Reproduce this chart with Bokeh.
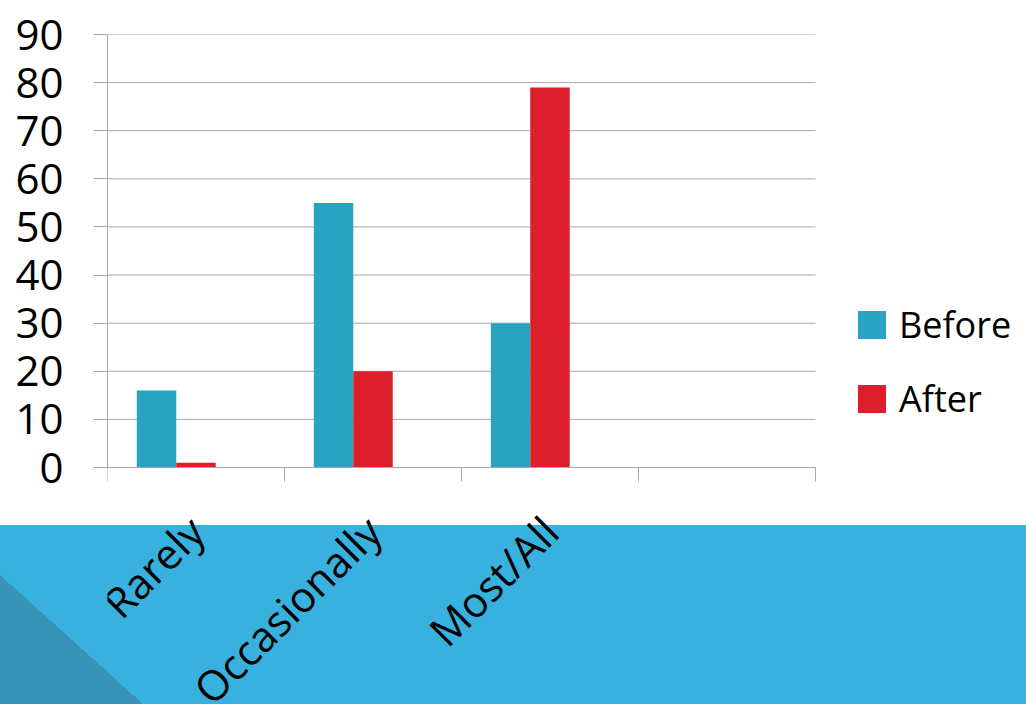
import math
from bokeh.plotting import figure
from bokeh.models import (Range1d, LinearAxis, FixedTicker, ColumnDataSource,
                          Legend, LegendItem, InlineStyleSheet)
from bokeh.transform import dodge
from bokeh.embed import file_html
from bokeh.resources import INLINE

# ---- data ----
categories = ["Rarely", "Occasionally", "Most/All", ""]
bar_categories = ["Rarely", "Occasionally", "Most/All"]
before = [16, 55, 30]
after = [1, 20, 79]
y_ticks = [0, 10, 20, 30, 40, 50, 60, 70, 80, 90]
series_names = ["Before", "After"]

BEFORE_C = "#2aa2c1"
AFTER_C = "#dc1f2b"
GRID_C = "#a8a8a8"
BAND_C = "#39b1de"
TRI_C = "#3794b6"
FONT = "Open Sans"

W, H = 1026, 704
LEFT, TOP = 107, 34
CHART_W, CHART_H = 708, 433   # pixel size of the value/category area
FRAME_W = W - LEFT            # frame runs to the right edge (legend lives there)
BELOW = H - TOP - CHART_H     # frame also runs to the bottom edge (labels live there)

# slide background (white top, blue band, darker corner triangle) as page decoration
bg_css = f""":host {{
  background:
    linear-gradient(to top right, {TRI_C} 50%, transparent 50%) 0 575px / 143px 129px no-repeat,
    linear-gradient({BAND_C}, {BAND_C}) 0 525px / 100% 179px no-repeat,
    #ffffff;
}}"""

n_cat = len(categories)
y_span = y_ticks[-1] - y_ticks[0]
centres = [categories.index(c) + 0.5 for c in bar_categories]
src = ColumnDataSource(dict(cat=bar_categories, xc=centres, before=before, after=after))
grid_src = ColumnDataSource(dict(y=y_ticks, x0=[0] * len(y_ticks), x1=[n_cat] * len(y_ticks)))

p = figure(width=W, height=H,
           x_range=Range1d(0, n_cat * FRAME_W / CHART_W),
           y_range=Range1d(y_ticks[0] - y_span * BELOW / CHART_H, y_ticks[-1]),
           x_axis_location=None, y_axis_location="left",
           output_backend="svg", toolbar_location=None,
           min_border_left=LEFT, min_border_right=0,
           min_border_top=TOP, min_border_bottom=0,
           outline_line_color=None, background_fill_color=None,
           border_fill_color=None,
           stylesheets=[InlineStyleSheet(css=bg_css)])

# horizontal gridlines across the category area only
p.segment(x0="x0", x1="x1", y0="y", y1="y", source=grid_src,
          line_color=GRID_C, line_width=1)

w = 0.223
rb = p.vbar(x=dodge("xc", -w), top="before", width=w, source=src,
            fill_color=BEFORE_C, line_color=None)
ra = p.vbar(x=dodge("xc", 0), top="after", width=w, source=src,
            fill_color=AFTER_C, line_color=None)

# y axis
ya = p.yaxis[0]
ya.ticker = FixedTicker(ticks=y_ticks)
ya.bounds = (y_ticks[0], y_ticks[-1])
ya.major_tick_out = 14
ya.major_tick_in = 0
ya.minor_tick_line_color = None
ya.major_tick_line_color = GRID_C
ya.axis_line_color = GRID_C
ya.major_label_standoff = 30
ya.major_label_text_font = FONT
ya.major_label_text_font_size = "42px"
ya.major_label_text_color = "black"

p.xgrid.grid_line_color = None
p.ygrid.grid_line_color = None

# category boundary ticks, drawn at y = 0
bounds = list(range(n_cat + 1))
ax1 = LinearAxis(ticker=FixedTicker(ticks=bounds), bounds=(0, n_cat),
                 fixed_location=y_ticks[0],
                 major_tick_out=14, major_tick_in=0,
                 major_tick_line_color=GRID_C, axis_line_color=GRID_C,
                 minor_tick_line_color=None,
                 major_label_text_font_size="0px", major_label_standoff=0,
                 major_label_overrides={b: "" for b in bounds})
p.add_layout(ax1, "below")

# category labels at category centres, hanging below y = 0
label_pos = [i + 0.5 for i in range(n_cat)]
ax2 = LinearAxis(ticker=FixedTicker(ticks=label_pos), fixed_location=y_ticks[0],
                 major_label_overrides={pos: name for pos, name in zip(label_pos, categories)},
                 major_label_orientation=math.pi / 4,
                 axis_line_color=None, major_tick_line_color=None,
                 minor_tick_line_color=None,
                 major_tick_out=0, major_tick_in=0,
                 major_label_standoff=56,
                 major_label_text_font=FONT,
                 major_label_text_font_size="42px",
                 major_label_text_color="black")
p.add_layout(ax2, "below")

legend = Legend(items=[LegendItem(label=series_names[0], renderers=[rb]),
                       LegendItem(label=series_names[1], renderers=[ra])],
                location=(747, 44 + BELOW), orientation="vertical",
                glyph_width=35, glyph_height=35, label_height=48, label_standoff=10,
                label_text_font=FONT, label_text_font_size="36px",
                label_text_color="black", spacing=25,
                border_line_color=None, background_fill_alpha=0,
                margin=0, padding=0)
p.add_layout(legend)

open("out.html", "w").write(file_html(p, INLINE))
